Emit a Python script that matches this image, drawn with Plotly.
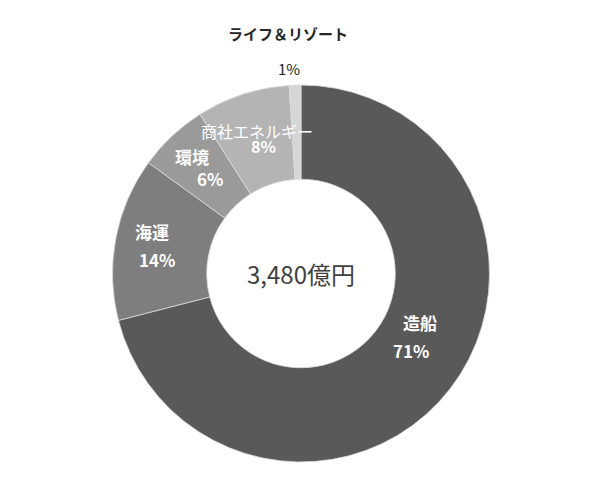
import plotly.graph_objects as go

categories = ["造船", "海運", "環境", "商社エネルギー", "ライフ＆リゾート"]
shares = [71, 14, 6, 8, 1]
percent_labels = ["71%", "14%", "6%", "8%", "1%"]
total_label = "3,480億円"

colors = ["#595959", "#7e7e7e", "#9a9a9a", "#b4b4b4", "#d6d6d6"]
text_colors = ["#ffffff", "#ffffff", "#ffffff", "#ffffff", "#262626"]
name_sizes = [17, 17, 17, 16, 15]
name_bold = [True, True, True, False, True]
pct_sizes = [17, 17, 17, 16, 15]
pct_bold = [True, True, True, True, False]
# label anchor positions (reference pixels) for name and percent
name_pos = [(420, 322), (152, 231), (192, 156), (257, 131), (288, 33)]
pct_pos = [(411, 350), (157, 259), (210, 178), (263, 146), (289, 68)]

W, H = 600, 480
OFF = 8  # page body margin
FONT = "Noto Sans CJK JP"


def px(x):
    return (x - OFF) / W


def py(y):
    return 1 - (y - OFF) / H


def fmt(t, b):
    return "<b>" + t + "</b>" if b else t


fig = go.Figure()
fig.add_trace(go.Pie(
    labels=categories,
    values=shares,
    hole=0.5,
    sort=False,
    direction="clockwise",
    rotation=0,
    marker=dict(colors=colors, line=dict(color="#dcdcdc", width=0.8)),
    textinfo="none",
    hoverinfo="label+percent",
    showlegend=False,
    domain=dict(x=[px(112), px(490)], y=[py(462), py(85)]),
))

annotations = []
for i, name in enumerate(categories):
    nx, ny = name_pos[i]
    qx, qy = pct_pos[i]
    annotations.append(dict(text=fmt(name, name_bold[i]), x=px(nx), y=py(ny), xref="paper", yref="paper",
                            xanchor="center", yanchor="middle", showarrow=False,
                            font=dict(family=FONT, size=name_sizes[i], color=text_colors[i])))
    annotations.append(dict(text=fmt(percent_labels[i], pct_bold[i]), x=px(qx), y=py(qy), xref="paper", yref="paper",
                            xanchor="center", yanchor="middle", showarrow=False,
                            font=dict(family=FONT, size=pct_sizes[i], color=text_colors[i])))
annotations.append(dict(text=total_label, x=px(301), y=py(273), xref="paper", yref="paper",
                        xanchor="center", yanchor="middle",
                        showarrow=False, font=dict(family=FONT, size=24, color="#404040")))

fig.update_layout(
    width=W, height=H,
    margin=dict(l=0, r=0, t=0, b=0),
    paper_bgcolor="white", plot_bgcolor="white",
    annotations=annotations,
)
fig.write_html("out.html")
